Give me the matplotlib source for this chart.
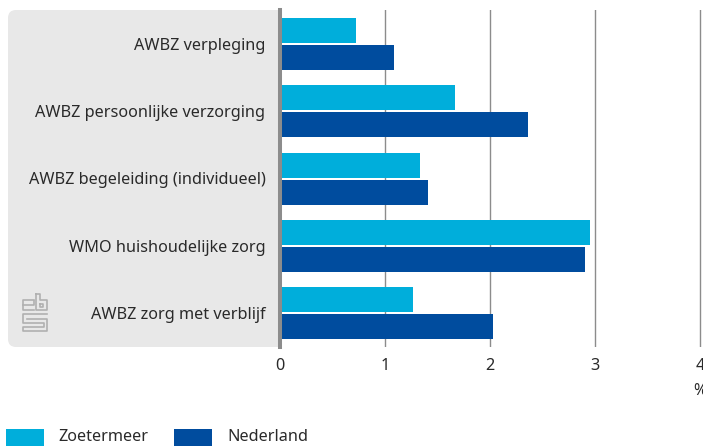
#!/usr/bin/env python
"""Zorggebruik Zoetermeer vs Nederland, horizontal bars."""

import matplotlib

matplotlib.use("Agg")
import matplotlib.pyplot as plt
import numpy as np
from matplotlib.lines import Line2D
from matplotlib.patches import FancyBboxPatch, Rectangle
from matplotlib.transforms import IdentityTransform

W, H = 703, 446

categories = [
    "AWBZ verpleging",
    "AWBZ persoonlijke verzorging",
    "AWBZ begeleiding (individueel)",
    "WMO huishoudelijke zorg",
    "AWBZ zorg met verblijf",
]
zoetermeer = [0.72, 1.67, 1.33, 2.95, 1.27]
nederland = [1.09, 2.36, 1.41, 2.90, 2.03]
x_ticks = [0, 1, 2, 3, 4]
series_names = ["Zoetermeer", "Nederland"]

LIGHT = "#00aedb"
DARK = "#004c9e"
GREY = "#8c8c8c"
TEXT = "#2a2a2a"
PANEL = "#e8e8e8"
LOGO = "#b0b0b0"
FONT_SIZE = 11.7

plt.rcParams["font.family"] = ["Noto Sans", "DejaVu Sans"]


def px(x, y):
    return x / W, 1 - y / H


fig = plt.figure(figsize=(W / 100, H / 100), dpi=100)
transform = fig.transFigure

# grey panel behind the labels; the right side is hidden under the axes
panel = FancyBboxPatch(
    (8, H - 347), 292, 337,
    boxstyle="round,pad=0,rounding_size=8",
    transform=IdentityTransform(),
    facecolor=PANEL, edgecolor="none", zorder=-1,
)
fig.add_artist(panel)

left, top = px(280, 10)
right, bottom = px(W, 347)
ax = fig.add_axes([left, bottom, right - left, top - bottom], facecolor="white")

y = np.arange(len(categories))
height = 25 / 67.4
ax.barh(y - 13.5 / 67.4, zoetermeer, height=height, color=LIGHT, zorder=3)
ax.barh(y + 13.5 / 67.4, nederland, height=height, color=DARK, zorder=3)

ax.set_xlim(0, (W - 280) / 105)
ax.set_ylim(len(categories) - 0.5, -0.5)
ax.set_yticks(y, categories)
ax.set_xticks(x_ticks)
ax.grid(True, axis="x", color=GREY, linewidth=1.0, zorder=1)
ax.set_axisbelow(True)
ax.tick_params(axis="y", length=0, pad=10.5, labelsize=FONT_SIZE, labelcolor=TEXT)
ax.tick_params(axis="x", length=0, pad=8, labelsize=FONT_SIZE, labelcolor=TEXT)
for name in ["top", "right", "bottom"]:
    ax.spines[name].set_visible(False)
ax.spines["left"].set_color(GREY)
ax.spines["left"].set_linewidth(2.9)
ax.spines["left"].set_zorder(5)

fig.text(*px(700, 391), "%", ha="center", va="center", fontsize=FONT_SIZE, color=TEXT)

# legend, swatches run off the bottom of the picture
for sx, tx, color, name in [(6, 58, LIGHT, series_names[0]), (174, 227, DARK, series_names[1])]:
    a, b = px(sx, 446)
    fig.add_artist(Rectangle((a, b), 38 / W, 17 / H, transform=transform, facecolor=color, edgecolor="none"))
    fig.text(*px(tx, 437), name, ha="left", va="center", fontsize=FONT_SIZE, color=TEXT)

# cbs logo
logo_lines = [
    [(34, 300), (23, 300), (23, 310), (34, 310)],
    [(23, 305), (34, 305), (34, 301)],
    [(36, 294), (36, 310), (47, 310), (47, 300), (40, 300), (40, 294), (36, 294)],
    [(40, 304), (43, 304), (43, 307), (40, 307), (40, 304)],
    [(47, 314), (23, 314), (23, 323), (44, 323), (44, 327), (23, 327), (23, 331), (47, 331), (47, 319), (27, 319)],
]
for points in logo_lines:
    xs, ys = zip(*[px(a, b) for a, b in points])
    fig.add_artist(Line2D(xs, ys, transform=transform, color=LOGO, linewidth=1.2))

fig.savefig("out.png", dpi=100)
